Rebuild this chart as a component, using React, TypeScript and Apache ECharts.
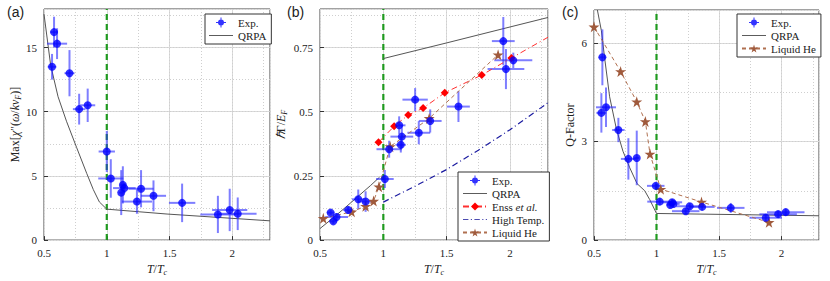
import React, { useEffect, useRef } from "react";
import * as echarts from "echarts";

// ---------- Panel (a) ----------
const aExpX = [0.564, 0.58, 0.604, 0.703, 0.78, 0.848, 1.0, 1.032, 1.115, 1.128, 1.14, 1.24, 1.273, 1.372, 1.6, 1.885, 1.979, 2.043];
const aExpY = [13.5, 16.2, 15.3, 13.0, 10.2, 10.5, 6.9, 4.8, 3.7, 4.3, 4.05, 3.0, 4.0, 3.45, 2.9, 2.0, 2.35, 2.05];
const aExpXErr = [0.035, 0.03, 0.08, 0.04, 0.05, 0.06, 0.065, 0.1, 0.02, 0.02, 0.09, 0.12, 0.1, 0.1, 0.105, 0.14, 0.14, 0.15];
const aExpYErr = [1.0, 1.2, 1.2, 1.8, 1.2, 1.3, 1.6, 1.5, 1.75, 1.45, 0.4, 0.95, 1.45, 1.2, 1.5, 1.45, 1.65, 1.27];
const aQrpaX = [0.5, 0.553, 0.612, 0.679, 0.759, 0.84, 0.893, 0.941, 1.0, 1.48, 2.3];
const aQrpaY = [17.6, 13.63, 11.17, 9.26, 7.23, 5.2, 3.93, 2.97, 2.41, 2.03, 1.5];

// ---------- Panel (b) ----------
const bExpX = [0.584, 0.605, 0.631, 0.723, 0.802, 0.86, 1.012, 1.046, 1.125, 1.138, 1.146, 1.251, 1.28, 1.37, 1.593, 1.947, 1.968, 2.026];
const bExpY = [0.107, 0.073, 0.09, 0.117, 0.159, 0.15, 0.238, 0.354, 0.447, 0.371, 0.403, 0.547, 0.418, 0.464, 0.52, 0.775, 0.666, 0.7];
const bExpXErr = [0.03, 0.03, 0.09, 0.04, 0.05, 0.06, 0.07, 0.1, 0.05, 0.04, 0.09, 0.1, 0.09, 0.09, 0.09, 0.09, 0.145, 0.15];
const bExpYErr = [0.01, 0.01, 0.015, 0.015, 0.038, 0.04, 0.035, 0.033, 0.035, 0.03, 0.045, 0.045, 0.045, 0.045, 0.06, 0.094, 0.078, 0.03];
const bQrpaX = [0.5, 0.6, 0.7, 0.8, 0.9, 0.97, null, 1.0, 1.5, 2.0, 2.3];
const bQrpaY = [0.045, 0.085, 0.127, 0.17, 0.213, 0.245, null, 0.707, 0.768, 0.83, 0.867];
const bEnssX = [0.962, 1.085, 1.196, 1.314, 1.485, 1.777, 2.011, 2.3];
const bEnssY = [0.381, 0.443, 0.487, 0.514, 0.574, 0.643, 0.709, 0.79];
const bHighX = [1.0, 1.25, 1.5, 1.75, 2.0, 2.3];
const bHighY = [0.148, 0.21, 0.275, 0.35, 0.43, 0.535];
const bHeX = [0.526, 0.75, 0.86, 0.923, 0.965, 1.054, 1.362, 1.906];
const bHeY = [0.085, 0.11, 0.132, 0.152, 0.208, 0.364, 0.474, 0.722];

// ---------- Panel (c) ----------
const cExpX = [0.559, 0.567, 0.596, 0.695, 0.775, 0.842, 0.994, 1.026, 1.11, 1.125, 1.135, 1.234, 1.266, 1.365, 1.594, 1.874, 1.973, 2.034];
const cExpY = [3.87, 5.56, 4.04, 3.35, 2.47, 2.5, 1.65, 1.17, 1.07, 1.15, 1.1, 0.88, 1.03, 1.01, 0.98, 0.68, 0.79, 0.85];
const cExpXErr = [0.04, 0.03, 0.08, 0.05, 0.06, 0.02, 0.07, 0.1, 0.03, 0.08, 0.05, 0.11, 0.11, 0.1, 0.11, 0.13, 0.15, 0.15];
const cExpYErr = [0.6, 0.85, 0.6, 0.37, 0.63, 0.83, 0.1, 0.1, 0.1, 0.1, 0.1, 0.1, 0.1, 0.1, 0.15, 0.1, 0.1, 0.1];
const cQrpaX = [0.527, 0.559, 0.585, 0.625, 0.679, 0.732, 0.786, 0.844, 0.906, 0.946, 1.0, 2.3];
const cQrpaY = [7.0, 6.37, 5.54, 4.36, 3.38, 2.7, 2.2, 1.72, 1.5, 1.23, 0.81, 0.74];
const cHeX = [0.5, 0.713, 0.842, 0.911, 0.948, 1.034, 1.36, 1.9];
const cHeY = [6.49, 5.13, 4.21, 3.61, 2.62, 1.55, 1.16, 0.54];

// Axis ranges / ticks
const xMin = 0.5, xMax = 2.3, xStep = 0.5;
const aYMax = 18, aYStep = 5;
const bYMax = 0.9, bYStep = 0.25;
const cYMax = 7, cYStep = 3;

const FONT = "Liberation Serif";
const BLUE = "#0000ff";
const BROWN = "#a05a3c";
const STAR = "path://M50,0 L61,35 L98,35 L68,57 L79,91 L50,70 L21,91 L32,57 L2,35 L39,35 Z";
const EXP_ICON = "path://M0,9 H20 V11 H0 Z M9,0 H11 V20 H9 Z M10,4 A6,6 0 1,1 10,16 A6,6 0 1,1 10,4 Z";
const LINE_ICON = "path://M0,0 H40 V1.6 H0 Z";
const DASHDOT_ICON = "path://M0,0 H9 V1.6 H0 Z M13,0 H15 V1.6 H13 Z M19,0 H28 V1.6 H19 Z M32,0 H34 V1.6 H32 Z M38,0 H40 V1.6 H38 Z";

const rich = {
  r: { fontFamily: FONT, fontSize: 12, color: "#222" },
  i: { fontFamily: FONT, fontSize: 12, fontStyle: "italic", color: "#222" },
  s: { fontFamily: FONT, fontSize: 8, fontStyle: "italic", color: "#222", padding: [6, 0, 0, 0] },
};

const zip = (xs: (number | null)[], ys: (number | null)[]) =>
  xs.map((x, i) => (x === null ? [null, null] : [x, ys[i]]));
const zip4 = (xs: number[], ys: number[], ex: number[], ey: number[]) => xs.map((x, i) => [x, ys[i], ex[i], ey[i]]);

const errRender = (params: any, api: any) => {
  const x = api.value(0), y = api.value(1), ex = api.value(2), ey = api.value(3);
  const p1 = api.coord([x - ex, y]), p2 = api.coord([x + ex, y]);
  const p3 = api.coord([x, y - ey]), p4 = api.coord([x, y + ey]);
  const style = { stroke: "rgba(40,40,255,0.6)", lineWidth: 2 };
  return {
    type: "group",
    children: [
      { type: "line", shape: { x1: p1[0], y1: p1[1], x2: p2[0], y2: p2[1] }, style },
      { type: "line", shape: { x1: p3[0], y1: p3[1], x2: p4[0], y2: p4[1] }, style },
    ],
  };
};

function xAxes(gi: number) {
  return [
    {
      type: "value", gridIndex: gi, min: xMin, max: xMax, interval: xStep, position: "bottom",
      axisLine: { show: false },
      axisTick: { inside: true, length: 4, lineStyle: { color: "#333" } },
      axisLabel: { showMaxLabel: false, fontFamily: FONT, fontSize: 11, color: "#222", margin: 7 },
      splitLine: { lineStyle: { color: "#dadada", width: 1 } },
      name: "{i|T}{r|/}{i|T}{s|c}", nameLocation: "middle", nameGap: 21,
      nameTextStyle: { rich, fontFamily: FONT },
    },
    {
      type: "value", gridIndex: gi, min: xMin, max: xMax, interval: xStep / 2, position: "top",
      axisLine: { show: false }, axisTick: { show: false }, axisLabel: { show: false },
      splitLine: { lineStyle: { color: "#cfcfcf", type: [1, 2] } },
    },
  ];
}

function yAxes(gi: number, max: number, step: number, name: string, gap: number) {
  return [
    {
      type: "value", gridIndex: gi, min: 0, max, interval: step, position: "left",
      axisLine: { show: false },
      axisTick: { inside: true, length: 4, lineStyle: { color: "#333" } },
      axisLabel: { showMaxLabel: false, fontFamily: FONT, fontSize: 11, color: "#222", margin: 7 },
      splitLine: { lineStyle: { color: "#dadada", width: 1 } },
      name, nameLocation: "middle", nameGap: gap,
      nameTextStyle: { rich, fontFamily: FONT, fontSize: 12, color: "#222" },
    },
    {
      type: "value", gridIndex: gi, min: 0, max, interval: step / 2, position: "right",
      axisLine: { show: false }, axisTick: { show: false }, axisLabel: { show: false },
      splitLine: { lineStyle: { color: "#cfcfcf", type: [1, 2] } },
    },
  ];
}

const greenLine = (xi: number, yi: number, ymax: number) => ({
  type: "line", xAxisIndex: xi, yAxisIndex: yi, data: [[1, 0], [1, ymax]], symbol: "none",
  lineStyle: { color: "#1f9a1f", width: 2.2, type: [6, 4] }, z: 3, silent: true,
});

const expSeries = (xi: number, yi: number, xs: number[], ys: number[], ex: number[], ey: number[]) => [
  {
    type: "custom", xAxisIndex: xi, yAxisIndex: yi, renderItem: errRender, clip: true,
    data: zip4(xs, ys, ex, ey), encode: { x: 0, y: 1 }, z: 5, silent: true,
  },
  {
    name: "Exp.", type: "scatter", xAxisIndex: xi, yAxisIndex: yi, data: zip(xs, ys),
    symbol: "circle", symbolSize: 8, itemStyle: { color: BLUE }, z: 6,
  },
];

const qrpa = (xi: number, yi: number, xs: any[], ys: any[]) => ({
  name: "QRPA", type: "line", xAxisIndex: xi, yAxisIndex: yi, data: zip(xs, ys), symbol: "none",
  connectNulls: false, lineStyle: { color: "#555", width: 1 }, itemStyle: { color: "#555" }, z: 4,
});

const liquidHe = (xi: number, yi: number, xs: number[], ys: number[]) => ({
  name: "Liquid He", type: "line", xAxisIndex: xi, yAxisIndex: yi, data: zip(xs, ys),
  symbol: STAR, symbolSize: 11, showAllSymbol: true,
  lineStyle: { color: "#b07050", width: 1, type: [4, 3] }, itemStyle: { color: BROWN }, z: 5,
});

const legendBase = {
  orient: "vertical", backgroundColor: "#fff", borderColor: "#333", borderWidth: 1,
  padding: [3, 5, 3, 4], itemGap: 2, itemWidth: 24, itemHeight: 10,
  textStyle: {
    fontFamily: FONT, fontSize: 11, color: "#222",
    rich: {
      n: { fontFamily: FONT, fontSize: 11, color: "#222" },
      it: { fontFamily: FONT, fontSize: 11, color: "#222", fontStyle: "italic" },
    },
  },
  formatter: (name: string) => (name === "Enss et al." ? "{n|Enss }{it|et al.}" : name),
  selectedMode: false,
};
const expLeg = { name: "Exp.", icon: EXP_ICON };
const qrpaLeg = { name: "QRPA", icon: LINE_ICON };
const highLeg = { name: "High Temp.", icon: DASHDOT_ICON };

export default function App() {
  const ref = useRef<HTMLDivElement>(null);
  useEffect(() => {
    document.body.style.margin = "0";
    const chart = echarts.init(ref.current!, null, { renderer: "svg" });
    const option: any = {
      animation: false,
      backgroundColor: "#fff",
      textStyle: { fontFamily: FONT },
      grid: [
        { left: 44, top: 9, width: 226, height: 239, show: true, borderColor: "#444", borderWidth: 1 },
        { left: 320, top: 9, width: 228, height: 240, show: true, borderColor: "#444", borderWidth: 1 },
        { left: 594, top: 10, width: 225, height: 238, show: true, borderColor: "#444", borderWidth: 1 },
      ],
      xAxis: [...xAxes(0), ...xAxes(1), ...xAxes(2)],
      yAxis: [
        ...yAxes(0, aYMax, aYStep, "{r|Max[}{i|χ}{r|″(}{i|ω}{r|/}{i|kv}{s|F}{r|)]}", 22),
        ...yAxes(1, bYMax, bYStep, "{i|ℏ}{r|Γ/}{i|E}{s|F}", 32),
        ...yAxes(2, cYMax, cYStep, "Q-Factor", 18),
      ],
      legend: [
        { ...legendBase, left: 205, top: 14, data: [expLeg, qrpaLeg] },
        { ...legendBase, left: 458, top: 172, data: [expLeg, qrpaLeg, "Enss et al.", highLeg, "Liquid He"] },
        { ...legendBase, left: 737, top: 14, data: [expLeg, qrpaLeg, "Liquid He"] },
      ],
      series: [
        // (a)
        greenLine(0, 0, aYMax),
        qrpa(0, 0, aQrpaX, aQrpaY),
        ...expSeries(0, 0, aExpX, aExpY, aExpXErr, aExpYErr),
        // (b)
        greenLine(2, 2, bYMax),
        qrpa(2, 2, bQrpaX, bQrpaY),
        {
          name: "Enss et al.", type: "line", xAxisIndex: 2, yAxisIndex: 2,
          data: bEnssX.map((x, i) => (i === bEnssX.length - 1 ? { value: [x, bEnssY[i]], symbol: "none" } : [x, bEnssY[i]])),
          symbol: "diamond", symbolSize: 8, showAllSymbol: true,
          lineStyle: { color: "#ff3030", width: 1, type: [6, 3, 1, 3] }, itemStyle: { color: "#ff0000" }, z: 5,
        },
        {
          name: "High Temp.", type: "line", xAxisIndex: 2, yAxisIndex: 2, data: zip(bHighX, bHighY),
          symbol: "none", lineStyle: { color: "#1a1aa0", width: 1.2, type: [6, 3, 1, 3] }, itemStyle: { color: "#4a4ab0" }, z: 4,
        },
        liquidHe(2, 2, bHeX, bHeY),
        ...expSeries(2, 2, bExpX, bExpY, bExpXErr, bExpYErr),
        // (c)
        greenLine(4, 4, cYMax),
        qrpa(4, 4, cQrpaX, cQrpaY),
        liquidHe(4, 4, cHeX, cHeY),
        ...expSeries(4, 4, cExpX, cExpY, cExpXErr, cExpYErr),
      ],
      graphic: [
        { type: "text", left: 7, top: 5, style: { text: "(a)", font: "14px Liberation Sans", fill: "#222" } },
        { type: "text", left: 287, top: 5, style: { text: "(b)", font: "14px Liberation Sans", fill: "#222" } },
        { type: "text", left: 562, top: 5, style: { text: "(c)", font: "14px Liberation Sans", fill: "#222" } },
      ],
    };
    chart.setOption(option);
    return () => chart.dispose();
  }, []);
  return <div ref={ref} style={{ width: 830, height: 281 }} />;
}
